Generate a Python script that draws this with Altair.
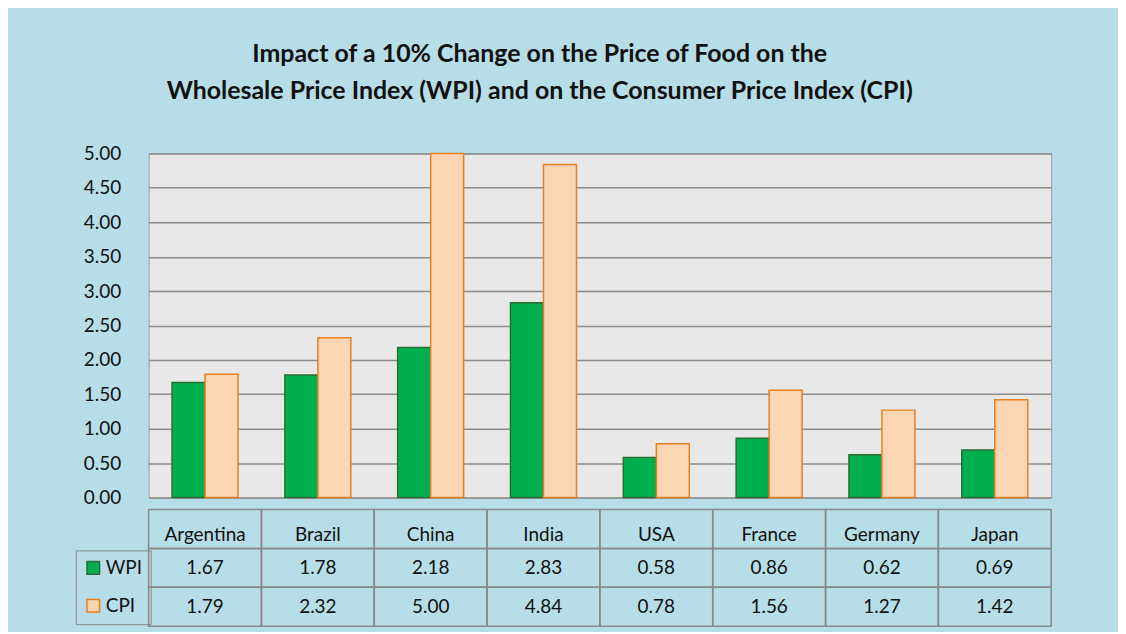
import altair as alt
import pandas as pd

countries = ["Argentina", "Brazil", "China", "India", "USA", "France", "Germany", "Japan"]
wpi = [1.67, 1.78, 2.18, 2.83, 0.58, 0.86, 0.62, 0.69]
cpi = [1.79, 2.32, 5.00, 4.84, 0.78, 1.56, 1.27, 1.42]
series = ["WPI", "CPI"]
y_ticks = [0, 0.5, 1, 1.5, 2, 2.5, 3, 3.5, 4, 4.5, 5]
title_lines = ["Impact of a 10% Change on the Price of Food on the",
               "Wholesale Price Index (WPI) and on the Consumer Price Index (CPI)"]

bar_rows = []
for c, w, p in zip(countries, wpi, cpi):
    bar_rows.append({"country": c, "series": "WPI", "value": w})
    bar_rows.append({"country": c, "series": "CPI", "value": p})
bars_df = pd.DataFrame(bar_rows)

table_rows = []
for c, w, p in zip(countries, wpi, cpi):
    table_rows.append({"country": c, "row": "hdr", "text": c})
    table_rows.append({"country": c, "row": "WPI", "text": f"{w:.2f}"})
    table_rows.append({"country": c, "row": "CPI", "text": f"{p:.2f}"})
table_df = pd.DataFrame(table_rows)

FONT = "Lato"
FS = 19
fill_scale = alt.Scale(domain=series, range=["#00b050", "#fcd5b4"])
stroke_scale = alt.Scale(domain=series, range=["#2d6b35", "#e8801f"])
x_band = alt.Scale(paddingInner=0, paddingOuter=0)

legend = alt.Legend(
    title=None, orient="none", legendX=-73, legendY=398, direction="vertical",
    symbolType="square", symbolSize=160, symbolStrokeWidth=1.5,
    labelFontSize=FS, labelFont=FONT, labelColor="#111", rowPadding=18,
    strokeColor="#888", padding=8, labelOffset=3,
)

bars = alt.Chart(bars_df).mark_bar(strokeWidth=1.5).encode(
    x=alt.X("country:N", sort=countries, scale=x_band, axis=None),
    xOffset=alt.XOffset("series:N", sort=series,
                        scale=alt.Scale(paddingInner=0, paddingOuter=0.71)),
    y=alt.Y("value:Q", scale=alt.Scale(domain=[0, 5], nice=False),
            axis=alt.Axis(values=y_ticks, format=".2f", title=None, ticks=False,
                          domain=False, labelFontSize=FS, labelFont=FONT,
                          labelColor="#111", labelPadding=28,
                          gridColor="#8c8c8c", gridWidth=1.5)),
    fill=alt.Fill("series:N", sort=series, scale=fill_scale, legend=legend),
    stroke=alt.Stroke("series:N", sort=series, scale=stroke_scale, legend=legend),
).properties(width=905, height=345,
             view=alt.ViewBackground(fill="#e8e8e8", stroke="#9a9a9a"))

tbase = alt.Chart(table_df).encode(
    x=alt.X("country:N", sort=countries, scale=x_band, axis=None),
    y=alt.Y("row:N", sort=["hdr", "WPI", "CPI"],
            scale=alt.Scale(paddingInner=0, paddingOuter=0), axis=None),
)
cells = tbase.mark_rect(fillOpacity=0, stroke="#888", strokeWidth=1.5)
head_text = tbase.transform_filter(alt.datum.row == "hdr").mark_text(
    fontSize=FS, font=FONT, color="#111", baseline="middle", dy=6).encode(text="text:N")
val_text = tbase.transform_filter(alt.datum.row != "hdr").mark_text(
    fontSize=FS, font=FONT, color="#111", baseline="middle").encode(text="text:N")
table = alt.layer(cells, head_text, val_text).properties(
    width=905, height=117, view=alt.ViewBackground(fill=None, stroke=None))

chart = alt.vconcat(bars, table, spacing=0).properties(
    title=alt.TitleParams(title_lines, fontSize=25, font=FONT, fontWeight="bold",
                          color="#111", lineHeight=37, anchor="middle", offset=40,
                          dx=-24),
    background="#b7dee8",
    padding={"left": 67, "top": 33, "right": 66, "bottom": 4},
).configure_view(stroke=None)

chart.save("out.html", embed_options={"renderer": "svg", "actions": False})
